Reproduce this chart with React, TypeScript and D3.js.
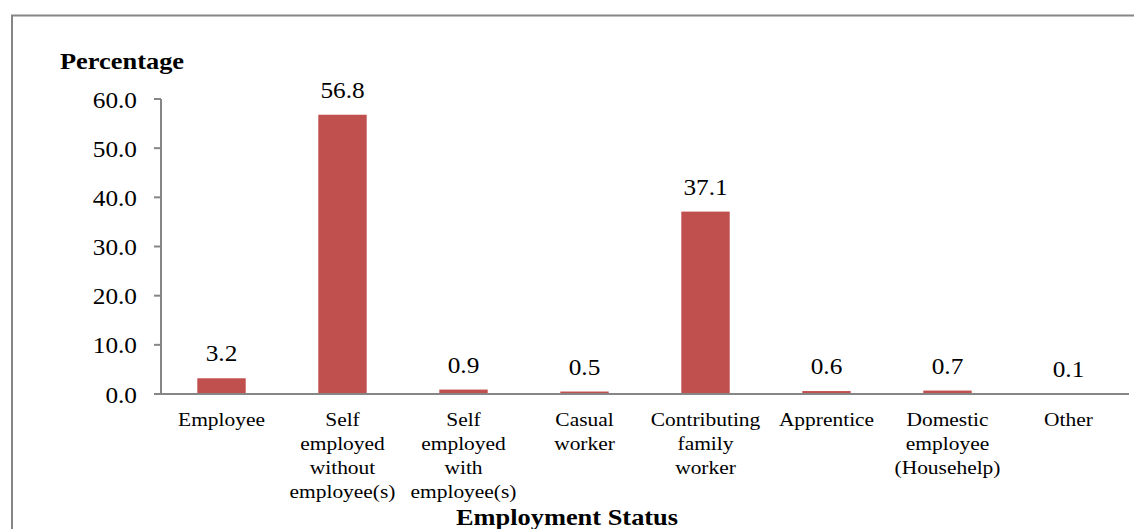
import React from 'react';
import * as d3 from 'd3';

// data
const categories: string[][] = [
  ['Employee'],
  ['Self', 'employed', 'without', 'employee(s)'],
  ['Self', 'employed', 'with', 'employee(s)'],
  ['Casual', 'worker'],
  ['Contributing', 'family', 'worker'],
  ['Apprentice'],
  ['Domestic', 'employee', '(Househelp)'],
  ['Other'],
];
const values: number[] = [3.2, 56.8, 0.9, 0.5, 37.1, 0.6, 0.7, 0.1];
const yTicks: number[] = [0, 10, 20, 30, 40, 50, 60];

const W = 1134;
const H = 529;
const margin = { left: 161, right: 5, top: 99, bottom: 135 };
const BAR = '#C0504D';
const GREY = '#868686';
const FONT = '"Liberation Serif", "Times New Roman", serif';
const SX = 1.1; // the source text is a bit wider than it is tall

const App: React.FC = () => {
  const keys = categories.map((_, i) => String(i));
  const x = d3.scaleBand<string>()
    .domain(keys)
    .range([margin.left, W - margin.right])
    .paddingInner(0.6)
    .paddingOuter(0.3);
  const y = d3.scaleLinear().domain([0, 60]).range([H - margin.bottom, margin.top]);
  const y0 = y(0);

  const stretched = (tx: number, ty: number, children: React.ReactNode, key?: string | number) => (
    <g key={key} transform={`translate(${tx},${ty}) scale(${SX},1)`}>{children}</g>
  );

  return (
    <svg width={W} height={H} style={{ position: 'absolute', left: 0, top: 0, background: '#fff' }}>
      {/* outer frame, runs off the right and bottom edges */}
      <rect x={12} y={15.5} width={1300} height={700} fill="none" stroke={GREY} strokeWidth={2} />

      {/* y title */}
      {stretched(60, 69, (
        <text fontFamily={FONT} fontSize={24} fontWeight="bold" fill="#000">Percentage</text>
      ))}

      {/* y axis */}
      <line x1={margin.left} x2={margin.left} y1={y(60)} y2={y0} stroke={GREY} strokeWidth={2} />
      {yTicks.map(t => (
        <g key={t}>
          <line x1={margin.left - 7} x2={margin.left} y1={y(t)} y2={y(t)} stroke={GREY} strokeWidth={2} />
          {stretched(137, y(t) + 8.5, (
            <text fontFamily={FONT} fontSize={23} textAnchor="end" fill="#000">{t.toFixed(1)}</text>
          ))}
        </g>
      ))}

      {/* bars */}
      {values.map((v, i) => (
        <rect key={i} x={x(keys[i])!} y={y(v)} width={x.bandwidth()} height={y0 - y(v)} fill={BAR} />
      ))}

      {/* x axis */}
      <line x1={margin.left - 7} x2={W - margin.right} y1={y0} y2={y0} stroke={GREY} strokeWidth={2} />

      {/* value labels */}
      {values.map((v, i) => stretched(x(keys[i])! + x.bandwidth() / 2, y(v) - 17, (
        <text fontFamily={FONT} fontSize={23} textAnchor="middle" fill="#000">{v.toFixed(1)}</text>
      ), 'v' + i))}

      {/* category labels */}
      {categories.map((lines, i) => stretched(x(keys[i])! + x.bandwidth() / 2, 426, (
        <text fontFamily={FONT} fontSize={19.5} textAnchor="middle" fill="#000">
          {lines.map((l, j) => (
            <tspan key={j} x={0} y={j * 24}>{l}</tspan>
          ))}
        </text>
      ), 'c' + i))}

      {/* x title */}
      {stretched(567, 525, (
        <text fontFamily={FONT} fontSize={24} fontWeight="bold" textAnchor="middle" fill="#000">Employment Status</text>
      ))}
    </svg>
  );
};

export default App;
